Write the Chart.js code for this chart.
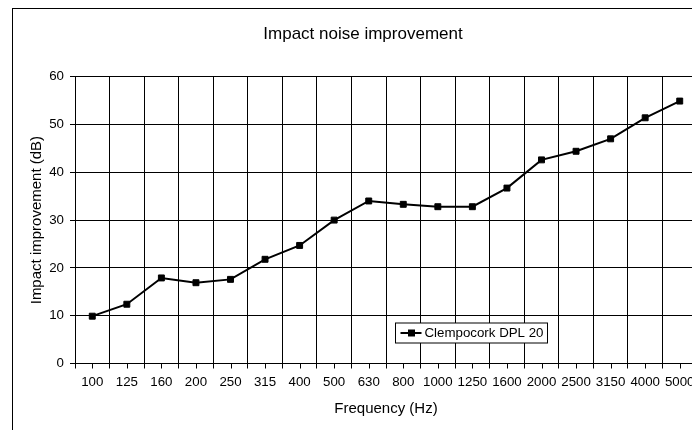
<!DOCTYPE html>
<html>
<head>
<meta charset="utf-8">
<script src="https://cdn.jsdelivr.net/npm/chart.js@4/dist/chart.umd.min.js"></script>
<style>
  html, body { margin: 0; padding: 0; background: #fff; overflow: hidden; }
  #wrap { position: absolute; left: 0; top: 0; width: 726px; height: 430px; }
</style>
</head>
<body>
<div id="wrap"><canvas id="chart" width="726" height="430"></canvas></div>
<script>
  // values
  const frequencies = ["100", "125", "160", "200", "250", "315", "400", "500", "630",
    "800", "1000", "1250", "1600", "2000", "2500", "3150", "4000", "5000"];
  const improvement = [9.9, 12.4, 17.9, 16.9, 17.6, 21.8, 24.7, 30.0, 34.0,
    33.3, 32.8, 32.8, 36.7, 42.6, 44.4, 47.0, 51.4, 54.9];
  const yTicks = [0, 10, 20, 30, 40, 50, 60];
  const seriesName = "Clempocork DPL 20";

  const FONT = "'Liberation Sans', Arial, sans-serif";

  // outer frame of the chart (right and bottom edges are cut off in the picture)
  const framePlugin = {
    id: "frame",
    beforeDraw(chart) {
      const ctx = chart.ctx;
      ctx.save();
      ctx.strokeStyle = "#000";
      ctx.lineWidth = 1;
      ctx.strokeRect(12.5, 8.5, chart.width + 20, chart.height + 20);
      ctx.restore();
    },
  };

  // small tick marks at the middle of each category, under the axis
  const midTicksPlugin = {
    id: "midTicks",
    afterDraw(chart) {
      const x = chart.scales.x;
      const ctx = chart.ctx;
      ctx.save();
      ctx.strokeStyle = "#000";
      ctx.lineWidth = 1;
      ctx.beginPath();
      for (let i = 0; i < frequencies.length; i++) {
        const px = Math.round(x.getPixelForValue(i)) + 0.5;
        ctx.moveTo(px, x.top);
        ctx.lineTo(px, x.top + 5);
      }
      ctx.stroke();
      ctx.restore();
    },
  };

  // legend box drawn inside the plot area
  const boxLegendPlugin = {
    id: "boxLegend",
    afterDatasetsDraw(chart) {
      const ctx = chart.ctx;
      const area = chart.chartArea;
      const ds = chart.data.datasets[0];
      const bx = area.left + 320.5, by = area.bottom - 40.5, bw = 152, bh = 20;
      ctx.save();
      ctx.fillStyle = "#fff";
      ctx.fillRect(bx, by, bw, bh);
      ctx.strokeStyle = "#000";
      ctx.lineWidth = 1;
      ctx.strokeRect(bx, by, bw, bh);
      const cy = by + bh / 2;
      ctx.strokeStyle = ds.borderColor;
      ctx.lineWidth = ds.borderWidth;
      ctx.beginPath();
      ctx.moveTo(bx + 5, cy);
      ctx.lineTo(bx + 26, cy);
      ctx.stroke();
      ctx.fillStyle = ds.pointBackgroundColor;
      ctx.fillRect(bx + 12.5, cy - 3.5, 7, 7);
      ctx.fillStyle = "#000";
      ctx.font = "13.3px " + FONT;
      ctx.textBaseline = "middle";
      ctx.textAlign = "left";
      ctx.fillText(ds.label, bx + 29, cy + 0.5);
      ctx.restore();
    },
  };

  const canvas = document.getElementById("chart");
  new Chart(canvas.getContext("2d"), {
    type: "line",
    data: {
      labels: frequencies,
      datasets: [
        {
          label: seriesName,
          data: improvement,
          borderColor: "#000",
          borderWidth: 2,
          pointStyle: "rect",
          pointRadius: 4.2,
          pointBorderWidth: 1,
          pointBackgroundColor: "#000",
          pointBorderColor: "#000",
          tension: 0,
        },
      ],
    },
    options: {
      responsive: false,
      animation: false,
      events: [],
      layout: { padding: 0 },
      plugins: {
        legend: { display: false },
        tooltip: { enabled: false },
        title: {
          display: true,
          text: "Impact noise improvement",
          color: "#000",
          font: { family: FONT, size: 17, weight: "normal" },
          padding: { top: 24, bottom: 32.3 },
        },
      },
      scales: {
        x: {
          type: "category",
          offset: true,
          grid: {
            offset: true,
            color: "#000",
            lineWidth: 1,
            tickLength: 5,
            tickColor: "#000",
          },
          border: { color: "#000", width: 1 },
          ticks: {
            color: "#000",
            font: { family: FONT, size: 13.3 },
            padding: 6,
            maxRotation: 0,
            autoSkip: false,
          },
          title: {
            display: true,
            text: "Frequency (Hz)",
            color: "#000",
            font: { family: FONT, size: 15 },
            padding: { top: 0, bottom: 12.5 },
          },
          afterFit(scale) {
            scale.height = 66.5;
          },
        },
        y: {
          min: 0,
          max: 60,
          afterBuildTicks(scale) {
            scale.ticks = yTicks.map((v) => ({ value: v }));
          },
          grid: {
            color: "#000",
            lineWidth: 1,
            tickLength: 5,
            tickColor: "#000",
          },
          border: { color: "#000", width: 1 },
          ticks: {
            color: "#000",
            font: { family: FONT, size: 13.3 },
            padding: 6,
          },
          title: {
            display: true,
            text: "Impact improvement (dB)",
            color: "#000",
            font: { family: FONT, size: 15 },
            padding: { top: 27.5, bottom: 0 },
          },
          afterFit(scale) {
            scale.width = 75;
          },
        },
        // empty spacer on the right so the plot runs past the cut edge
        // while the title stays centred on the whole chart
        spacer: {
          type: "linear",
          position: "right",
          display: true,
          grid: { display: false, drawTicks: false },
          border: { display: false },
          ticks: { display: false },
          afterFit(scale) {
            scale.width = 29;
          },
        },
      },
    },
    plugins: [framePlugin, midTicksPlugin, boxLegendPlugin],
  });
</script>
</body>
</html>
